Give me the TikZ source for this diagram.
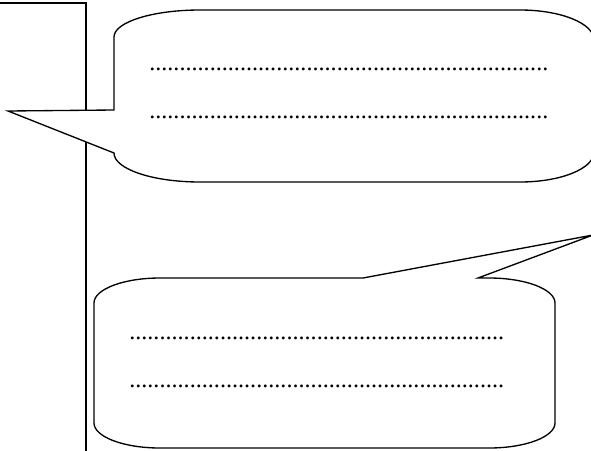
\documentclass[tikz,border=0pt]{standalone}
\usepackage{fontspec}
\setmainfont{Liberation Serif}
\newcommand\dotrow[1]{\foreach \i in {1,...,#1}{.}}
\tikzset{
  bubble/.style={draw=black, fill=white, line width=1pt, line join=miter},
  frameline/.style={draw=black, line width=1pt},
  dotline/.style={anchor=base west, inner sep=0pt, outer sep=0pt, font=\fontsize{18.14}{20}\selectfont}
}
\begin{document}
\begin{tikzpicture}[x=0.75pt, y=-0.75pt]
\clip (0,0) rectangle (591,450);
\fill[white] (0,0) rectangle (591,450);
% left frame
\draw[frameline] (0,3) -- (86,3) -- (86,452);
% top bubble
\draw[bubble] (114,110) -- (114,37)
  .. controls (114,22.1) and (152.5,10) .. (200,10)
  -- (520,10)
  .. controls (560.9,10) and (594,23.4) .. (594,40)
  -- (594,152)
  .. controls (594,168.6) and (560.9,182) .. (520,182)
  -- (200,182)
  .. controls (152.5,182) and (114,169) .. (114,153)
  -- (8,111) -- cycle;
% bottom bubble
\draw[bubble] (363,278) -- (593,235) -- (478,278) -- (489,278)
  .. controls (525.5,278) and (555,289.2) .. (555,303)
  -- (555,423)
  .. controls (555,436.8) and (525.5,448) .. (489,448)
  -- (160,448)
  .. controls (123.5,448) and (94,436.8) .. (94,423)
  -- (94,303)
  .. controls (94,289.2) and (123.5,278) .. (160,278)
  -- cycle;
% dotted text lines
\node[dotline] (t1) at (149.3,70.2) {\dotrow{66}};
\node[dotline] (t2) at (149.3,118.7) {\dotrow{66}};
\node[dotline] (b1) at (129.3,339.2) {\dotrow{62}};
\node[dotline] (b2) at (129.3,387.7) {\dotrow{62}};
\end{tikzpicture}
\end{document}
